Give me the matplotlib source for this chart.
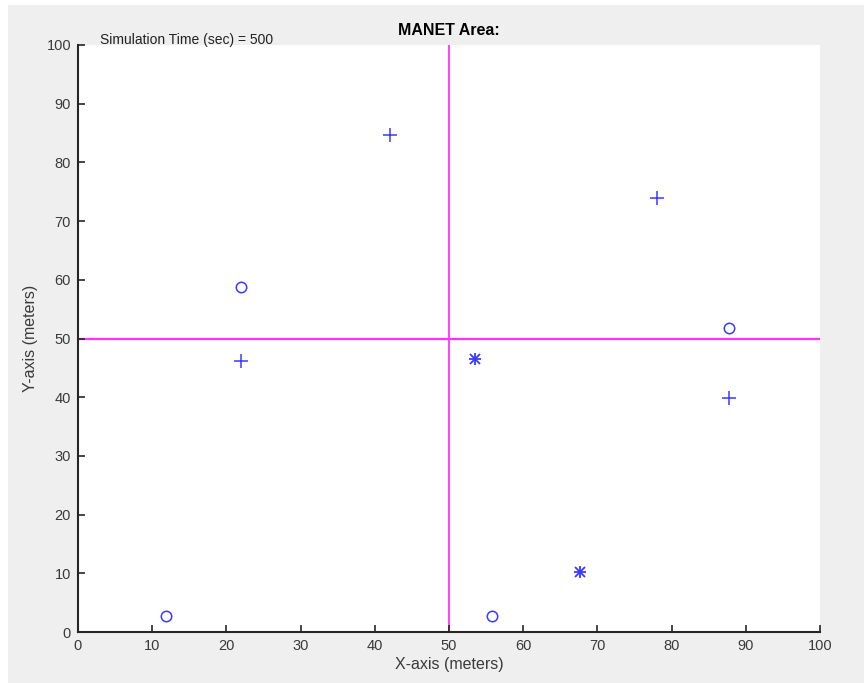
"""MANET node positions at a given simulation time, split into four quadrants."""
import matplotlib
matplotlib.use("Agg")
import matplotlib.pyplot as plt
from matplotlib.patches import Rectangle

plt.rcParams["font.family"] = ["Liberation Sans", "DejaVu Sans"]

# node positions by marker type
plus_x = [42.0, 78.0, 22.0, 87.7]
plus_y = [84.7, 73.9, 46.2, 39.9]
circle_x = [22.0, 11.9, 55.8, 87.7]
circle_y = [58.8, 2.7, 2.7, 51.8]
star_x = [53.5, 67.7]
star_y = [46.5, 10.2]

area_size = 100
split = 50
sim_time = 500
ticks = list(range(0, 101, 10))

BLUE = "#3a3aff"
MAGENTA = "#ff33ff"
TXT = "#3a3a3a"

fig = plt.figure(figsize=(8.64, 6.83), dpi=100, facecolor="white")
# grey window background, small white border at top/left
fig.patches.append(Rectangle((8 / 864, 0), 1, 1 - 5 / 683, transform=fig.transFigure,
                             facecolor="#efefef", edgecolor="none", zorder=-10))
ax = fig.add_axes([78 / 864, 51 / 683, 742 / 864, 587 / 683])
ax.set_facecolor("white")

ax.axvline(split, color=MAGENTA, lw=1.3, zorder=1)
ax.axhline(split, color=MAGENTA, lw=1.6, zorder=1)

ax.plot(plus_x, plus_y, ls="none", marker="+", ms=10, mew=1.1, color=BLUE, zorder=3)
ax.plot(circle_x, circle_y, ls="none", marker="o", ms=7.5, mew=1.1,
        mfc="none", mec=BLUE, zorder=3)
ax.plot(star_x, star_y, ls="none", marker="+", ms=9, mew=1.3, color=BLUE, zorder=3)
ax.plot(star_x, star_y, ls="none", marker="x", ms=7, mew=1.3, color=BLUE, zorder=3)

ax.set_xlim(0, area_size)
ax.set_ylim(0, area_size)
ax.set_xticks(ticks)
ax.set_yticks(ticks)
ax.tick_params(direction="in", length=5, width=1.2, color="#262626",
               labelsize=10.5, labelcolor=TXT, top=False, right=False, pad=5)
for side in ("top", "right"):
    ax.spines[side].set_visible(False)
for side in ("left", "bottom"):
    ax.spines[side].set_linewidth(1.5)
    ax.spines[side].set_color("#262626")

ax.set_xlabel("X-axis (meters)", fontsize=11.5, color=TXT, labelpad=3)
ax.set_ylabel("Y-axis (meters)", fontsize=11.5, color=TXT, labelpad=6)
ax.set_title("MANET Area:", fontsize=11.5, fontweight="bold", pad=7)
ax.text(3, 99.6, f"Simulation Time (sec) = {sim_time}", fontsize=10,
        color="#222222", va="bottom", ha="left", clip_on=False)

fig.savefig("out.png", dpi=100, facecolor=fig.get_facecolor())
